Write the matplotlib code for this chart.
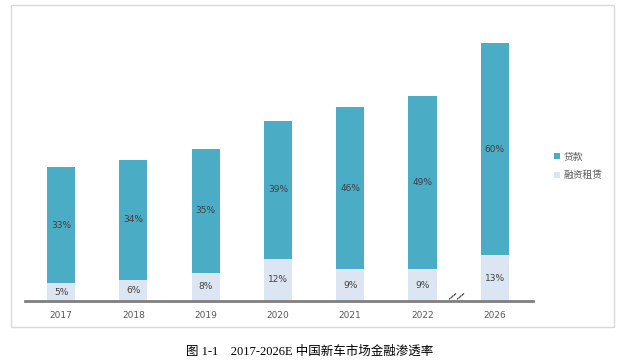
import matplotlib
matplotlib.use("Agg")
import matplotlib.pyplot as plt
from matplotlib.patches import Rectangle, Patch

years = ["2017", "2018", "2019", "2020", "2021", "2022", "2026"]
leasing = [5, 6, 8, 12, 9, 9, 13]
loans = [33, 34, 35, 39, 46, 49, 60]
series_names = ["贷款", "融资租赁"]
caption = "图 1-1    2017-2026E 中国新车市场金融渗透率"

c_loan = "#4BACC6"
c_lease = "#DCE6F2"
txt = "#595959"

fig = plt.figure(figsize=(6.19, 3.61), dpi=100)
fig.patch.set_facecolor("white")
fig.patches.append(Rectangle((11/619, 1-327/361), (614-11)/619, (327-5)/361,
                             transform=fig.transFigure, fill=False,
                             edgecolor="#D9D9D9", linewidth=1.0))

ax = fig.add_axes([25/619, 1-301/361, 508/619, 281/361])
x = list(range(len(years)))
w = 0.39
ax.bar(x, leasing, width=w, color=c_lease, zorder=2)
ax.bar(x, loans, width=w, bottom=leasing, color=c_loan, zorder=2)
for i in x:
    ax.text(i, leasing[i]/2, f"{leasing[i]}%", ha="center", va="center",
            fontsize=6.5, color="#404040")
    ax.text(i, leasing[i] + loans[i]/2, f"{loans[i]}%", ha="center", va="center",
            fontsize=6.5, color="#404040")

ax.set_xlim(-0.5, 6.53)
ax.set_ylim(0, 79.6)
ax.set_xticks(x)
ax.set_xticklabels(years, fontsize=6.5, color=txt)
ax.tick_params(axis="x", length=0, pad=7)
ax.set_yticks([])
for s in ["top", "right", "left"]:
    ax.spines[s].set_visible(False)
ax.spines["bottom"].set_color("#7F7F7F")
ax.spines["bottom"].set_linewidth(2)
ax.spines["bottom"].set_zorder(3)

# axis break mark
for bx in (5.40, 5.52):
    ax.text(bx, 1.1, "/", ha="center", va="center", fontsize=7, color="black",
            rotation=-35, zorder=4)

handles = [Patch(facecolor=c_loan), Patch(facecolor=c_lease)]
fig.legend(handles, series_names, loc="center left",
           bbox_to_anchor=(545/619, 1-166/361), frameon=False,
           handlelength=0.6, handleheight=0.6, handletextpad=0.4,
           labelspacing=0.9,
           prop={"family": ["Noto Sans CJK SC", "DejaVu Sans"], "size": 7},
           labelcolor=txt)

fig.text(0.5, 1-352/361, caption, ha="center", va="center", fontsize=9,
         family=["Liberation Serif", "Noto Sans CJK SC"], color="black")

fig.savefig("out.png", dpi=100)
